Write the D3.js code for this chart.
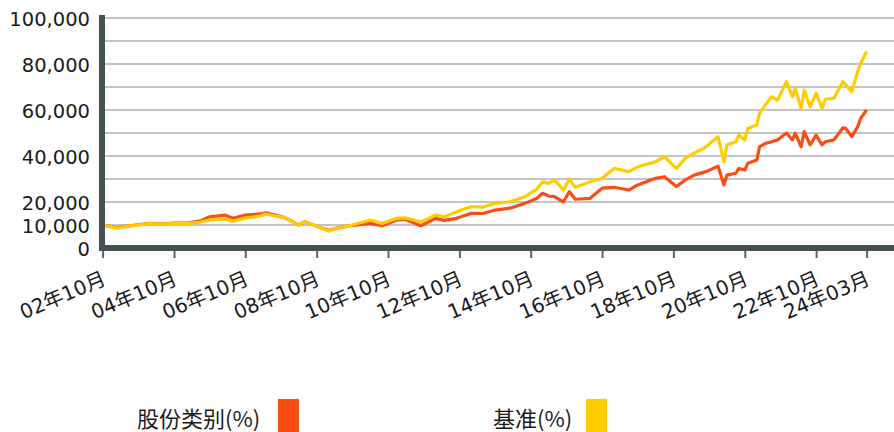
<!DOCTYPE html>
<html>
<head>
	<meta charset="utf-8">
	<script src="https://d3js.org/d3.v7.min.js"></script>
	<style>
		body { margin: 0; background: #fff; }
		svg { display: block; }
	</style>
</head>
<body>
	<script type="text/javascript">

		//Months of the data points (year-month)
		var months = [
			"2002-10","2002-12","2003-03","2003-05","2003-07","2003-10","2004-02","2004-06","2004-10",
			"2005-03","2005-07","2005-10","2006-01","2006-03","2006-06","2006-10","2007-03","2007-05",
			"2007-08","2007-11","2008-02","2008-04","2008-06","2008-08","2008-11","2009-02","2009-04",
			"2009-09","2010-04","2010-08","2011-01","2011-04","2011-09","2012-02","2012-05","2012-09",
			"2013-02","2013-06","2013-10","2014-03","2014-08","2014-12","2015-02","2015-04","2015-06",
			"2015-09","2015-11","2016-01","2016-06","2016-10","2017-02","2017-07","2017-10","2018-04",
			"2018-07","2018-11","2019-02","2019-05","2019-09","2020-01","2020-03","2020-04","2020-07",
			"2020-08","2020-10","2020-11","2021-02","2021-03","2021-05","2021-07","2021-09","2021-12",
			"2022-02","2022-03","2022-05","2022-06","2022-08","2022-10","2022-12","2023-01","2023-04",
			"2023-07","2023-08","2023-10","2023-12","2024-01","2024-03"
		];

		//Share class (red line)
		var fundValues = [
			10000, 9500, 8800, 9300, 9600, 10100, 10700, 10500, 10800,
			10900, 11800, 13600, 14000, 14300, 12900, 14300, 14800, 15300,
			14300, 13300, 11400, 10000, 11400, 10400, 9000, 7600, 8400,
			9600, 10700, 9700, 12200, 12400, 9700, 12900, 12000, 12900,
			15100, 15000, 16500, 17300, 19400, 21500, 23800, 22600, 22300,
			20100, 24500, 21200, 21600, 26000, 26400, 25200, 27400, 30300,
			31000, 26700, 29600, 31700, 33200, 35600, 27400, 31700, 32500,
			34600, 33900, 36800, 38300, 44000, 45500, 46200, 47000, 50000,
			47000, 49900, 44000, 50600, 44800, 49100, 44800, 46200, 47000,
			52200, 52000, 48400, 52700, 56400, 60000
		];

		//Benchmark (yellow line)
		var benchValues = [
			10000, 9400, 8600, 9200, 9600, 10000, 10600, 10400, 10700,
			10700, 11300, 12200, 12600, 12500, 11700, 13000, 13900, 14800,
			13900, 13300, 11400, 10000, 11400, 10400, 9000, 7300, 8300,
			9700, 12200, 10700, 12900, 13100, 11300, 14300, 13500, 15800,
			18000, 17800, 19400, 20100, 22300, 25500, 28800, 28100, 29600,
			25200, 29900, 26400, 28800, 30300, 34600, 33200, 35300, 37500,
			39700, 34600, 39000, 41200, 44000, 48400, 37500, 44800, 46200,
			49100, 47000, 52000, 53500, 58600, 62200, 65800, 64300, 72300,
			65800, 69400, 60700, 68700, 61400, 67300, 60700, 64600, 65100,
			72300, 70900, 68000, 76700, 80300, 85400
		];

		//Axis ticks
		var xTickMonths = ["2002-10","2004-10","2006-10","2008-10","2010-10","2012-10",
			"2014-10","2016-10","2018-10","2020-10","2022-10","2024-03"];
		var yTickValues = [0, 10000, 20000, 40000, 60000, 80000, 100000];
		var gridValues = [10000, 20000, 30000, 40000, 50000, 60000, 70000, 80000, 90000, 100000];

		//Legend
		var seriesNames = ["股份类别(%)", "基准(%)"];
		var seriesColors = ["#fc4c16", "#ffcc00"];

		var parseMonth = d3.timeParse("%Y-%m");
		var labelMonth = d3.timeFormat("%y年%m月");

		var w = 894;
		var h = 432;

		var svg = d3.select("body")
				.append("svg")
				.attr("width", w)
				.attr("height", h);

		//Scales
		var xScale = d3.scaleTime()
						.domain([parseMonth("2002-10"), parseMonth("2024-03")])
						.range([102.6, 866.6]);

		var yScale = d3.scaleLinear()
						.domain([0, 100000])
						.range([248, 18]);

		//Gridlines
		svg.selectAll("line.grid")
			.data(gridValues)
			.enter()
			.append("line")
			.attr("class", "grid")
			.attr("x1", 102)
			.attr("x2", w)
			.attr("y1", function(d){ return yScale(d); })
			.attr("y2", function(d){ return yScale(d); })
			.attr("stroke", "#c4c4c4")
			.attr("stroke-width", 2);

		//Y axis labels
		var yAxis = d3.axisLeft(yScale)
						.tickValues(yTickValues)
						.tickFormat(d3.format(","))
						.tickSize(0)
						.tickPadding(0);

		var yG = svg.append("g")
				.attr("transform", "translate(90,0)")
				.call(yAxis);
		yG.select(".domain").remove();
		yG.selectAll("text")
			.attr("font-family", "DejaVu Sans, sans-serif")
			.attr("font-size", 19.5)
			.attr("fill", "#1a1a1a")
			.attr("dy", "0.36em");

		//X axis ticks and rotated labels
		var xTicks = xTickMonths.map(parseMonth);
		var xAxis = d3.axisBottom(xScale)
						.tickValues(xTicks)
						.tickFormat(labelMonth)
						.tickSize(8)
						.tickPadding(0);

		var xG = svg.append("g")
				.attr("transform", "translate(0,250)")
				.call(xAxis);
		xG.select(".domain").remove();
		xG.selectAll(".tick line")
			.attr("stroke", "#5a6466")
			.attr("stroke-width", 2);
		xG.selectAll("text")
			.attr("font-family", "DejaVu Sans, Noto Sans CJK SC, sans-serif")
			.attr("font-size", 20)
			.attr("fill", "#1a1a1a")
			.attr("text-anchor", "end")
			.attr("dy", 0)
			.attr("y", 0)
			.attr("transform", "translate(4,34) rotate(-23)");

		//Lines
		var lineFund = d3.line()
				.x(function(d, i){ return xScale(parseMonth(months[i])); })
				.y(function(d){ return yScale(d); });

		var seriesData = [fundValues, benchValues];

		svg.selectAll("path.series")
			.data(seriesData)
			.enter()
			.append("path")
			.attr("class", "series")
			.attr("d", lineFund)
			.attr("fill", "none")
			.attr("stroke", function(d, i){ return seriesColors[i]; })
			.attr("stroke-width", 3.2)
			.attr("stroke-linejoin", "round");

		//Axis bars (thick dark lines)
		svg.append("line")
			.attr("x1", 102).attr("x2", 102)
			.attr("y1", 15).attr("y2", 251)
			.attr("stroke", "#465052")
			.attr("stroke-width", 6);

		svg.append("line")
			.attr("x1", 99).attr("x2", w)
			.attr("y1", 248).attr("y2", 248)
			.attr("stroke", "#465052")
			.attr("stroke-width", 6);

		//Legend
		var legendX = [137, 493];
		var legendRectX = [278, 586];

		var legend = svg.selectAll("g.legend")
				.data(seriesNames)
				.enter()
				.append("g")
				.attr("class", "legend");

		legend.append("text")
			.attr("x", function(d, i){ return legendX[i]; })
			.attr("y", 427)
			.attr("font-family", "Noto Sans CJK SC, sans-serif")
			.attr("font-size", 22)
			.attr("fill", "#1a1a1a")
			.text(function(d){ return d; });

		legend.append("rect")
			.attr("x", function(d, i){ return legendRectX[i]; })
			.attr("y", 399)
			.attr("width", 21)
			.attr("height", 33)
			.attr("fill", function(d, i){ return seriesColors[i]; });

	</script>
</body>
</html>
